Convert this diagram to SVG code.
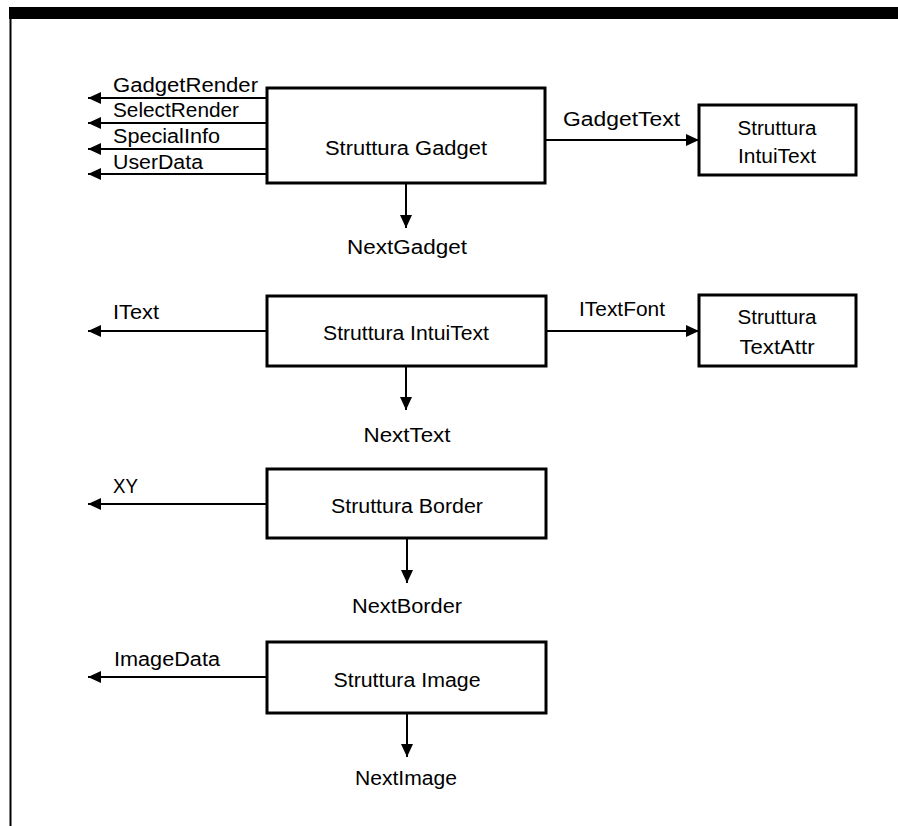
<svg xmlns="http://www.w3.org/2000/svg" width="898" height="826" viewBox="0 0 898 826">
<style>
.box{fill:#fff;stroke:#000;stroke-width:3}
.ln{fill:none;stroke:#000;stroke-width:2;marker-end:url(#ah)}
text{font-family:"Liberation Sans",Arial,sans-serif;font-size:20px;fill:#000}
.c{text-anchor:middle}
</style>
<defs>
<marker id="ah" markerUnits="userSpaceOnUse" markerWidth="13" markerHeight="12" refX="13" refY="6" orient="auto">
<path d="M0,0 L13,6 L0,12 z" fill="#000"/>
</marker>
</defs>
<rect width="898" height="826" fill="#fff"/>
<g id="frame">
<rect x="9" y="7" width="889" height="12" fill="#000"/>
<line x1="10.5" y1="7" x2="10.5" y2="826" stroke="#000" stroke-width="2"/>
</g>
<g id="connectors">
<line class="ln" x1="267" y1="98" x2="88" y2="98"/>
<line class="ln" x1="267" y1="123" x2="88" y2="123"/>
<line class="ln" x1="267" y1="149" x2="88" y2="149"/>
<line class="ln" x1="267" y1="174" x2="88" y2="174"/>
<line class="ln" x1="546" y1="140" x2="699" y2="140"/>
<line class="ln" x1="406" y1="183" x2="406" y2="228"/>
<line class="ln" x1="267" y1="331" x2="88" y2="331"/>
<line class="ln" x1="546" y1="331" x2="699" y2="331"/>
<line class="ln" x1="406" y1="366" x2="406" y2="410"/>
<line class="ln" x1="267" y1="504" x2="88" y2="504"/>
<line class="ln" x1="407" y1="538" x2="407" y2="583"/>
<line class="ln" x1="267" y1="677" x2="88" y2="677"/>
<line class="ln" x1="407" y1="713" x2="407" y2="757"/>
<text x="113" y="92" textLength="145" lengthAdjust="spacingAndGlyphs">GadgetRender</text>
<text x="113" y="117" textLength="126" lengthAdjust="spacingAndGlyphs">SelectRender</text>
<text x="113" y="143" textLength="107" lengthAdjust="spacingAndGlyphs">SpecialInfo</text>
<text x="113" y="169" textLength="90" lengthAdjust="spacingAndGlyphs">UserData</text>
<text x="563" y="126" textLength="117" lengthAdjust="spacingAndGlyphs">GadgetText</text>
<text class="c" x="407" y="254" textLength="120" lengthAdjust="spacingAndGlyphs">NextGadget</text>
<text x="113" y="319" textLength="46" lengthAdjust="spacingAndGlyphs">IText</text>
<text x="579" y="316" textLength="86" lengthAdjust="spacingAndGlyphs">ITextFont</text>
<text class="c" x="407" y="442" textLength="87" lengthAdjust="spacingAndGlyphs">NextText</text>
<text x="113" y="493" textLength="25" lengthAdjust="spacingAndGlyphs">XY</text>
<text class="c" x="407" y="613" textLength="110" lengthAdjust="spacingAndGlyphs">NextBorder</text>
<text x="114" y="666" textLength="106" lengthAdjust="spacingAndGlyphs">ImageData</text>
<text class="c" x="406" y="785" textLength="102" lengthAdjust="spacingAndGlyphs">NextImage</text>
</g>
<g id="gadget">
<rect class="box" x="267" y="88" width="278" height="95"/>
<text class="c" x="406" y="155" textLength="162" lengthAdjust="spacingAndGlyphs">Struttura Gadget</text>
</g>
<g id="intuitext-ref">
<rect class="box" x="699" y="105" width="157" height="70"/>
<text class="c" x="777" y="135" textLength="79" lengthAdjust="spacingAndGlyphs">Struttura</text>
<text class="c" x="777" y="163" textLength="78" lengthAdjust="spacingAndGlyphs">IntuiText</text>
</g>
<g id="intuitext">
<rect class="box" x="267" y="296" width="279" height="70"/>
<text class="c" x="406" y="340" textLength="166" lengthAdjust="spacingAndGlyphs">Struttura IntuiText</text>
</g>
<g id="textattr">
<rect class="box" x="699" y="295" width="157" height="71"/>
<text class="c" x="777" y="324" textLength="79" lengthAdjust="spacingAndGlyphs">Struttura</text>
<text class="c" x="777" y="354" textLength="75" lengthAdjust="spacingAndGlyphs">TextAttr</text>
</g>
<g id="border">
<rect class="box" x="267" y="469" width="279" height="69"/>
<text class="c" x="407" y="513" textLength="152" lengthAdjust="spacingAndGlyphs">Struttura Border</text>
</g>
<g id="image">
<rect class="box" x="267" y="642" width="279" height="71"/>
<text class="c" x="407" y="687" textLength="147" lengthAdjust="spacingAndGlyphs">Struttura Image</text>
</g>
</svg>
